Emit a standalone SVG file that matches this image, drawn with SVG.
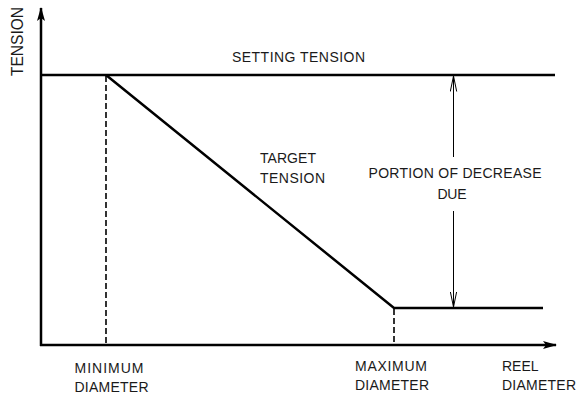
<svg xmlns="http://www.w3.org/2000/svg" width="579" height="396" viewBox="0 0 579 396">
  <style>
    .t { font-family: "Liberation Sans", Arial, sans-serif; font-size: 14px; fill: #1a1a1a; }
    .thick { stroke: #000; stroke-width: 2.5; fill: none; }
    .dash { stroke: #000; stroke-width: 1.6; stroke-dasharray: 6 3; fill: none; }
    .thin { stroke: #000; stroke-width: 1; fill: none; }
  </style>
  <defs>
    <marker id="solidArrow" viewBox="0 0 14 10" refX="13" refY="5" markerWidth="14" markerHeight="10" markerUnits="userSpaceOnUse" orient="auto">
      <path d="M0,1 L14,5 L0,9 L3,5 Z" fill="#000"/>
    </marker>
    <marker id="openArrow" viewBox="0 0 16 8" refX="15.5" refY="4" markerWidth="16" markerHeight="8" markerUnits="userSpaceOnUse" orient="auto">
      <path d="M0,0.8 L15.5,4 L0,7.2" fill="none" stroke="#000" stroke-width="1"/>
    </marker>
  </defs>
  <rect width="579" height="396" fill="#fff"/>

  <g id="axes">
    <line class="thick" x1="41" y1="346" x2="41" y2="8" marker-end="url(#solidArrow)"/>
    <line class="thick" x1="40" y1="345" x2="556" y2="345" marker-end="url(#solidArrow)"/>
  </g>

  <g id="connectors">
    <line id="setting-line" class="thick" x1="41" y1="75" x2="555" y2="75"/>
    <polyline id="target-line" class="thick" points="106,75 394,308 543,308"/>
    <line id="min-dash" class="dash" x1="106" y1="76" x2="106" y2="344"/>
    <line id="max-dash" class="dash" x1="394" y1="309" x2="394" y2="344"/>
    <line id="arrow-up" class="thin" x1="453.5" y1="157" x2="453.5" y2="76" marker-end="url(#openArrow)"/>
    <line id="arrow-down" class="thin" x1="453.5" y1="211" x2="453.5" y2="307" marker-end="url(#openArrow)"/>
  </g>

  <g id="label-tension">
    <text class="t" transform="translate(22.5,76) rotate(-90)" x="0" y="0" style="font-size:16px" textLength="69" lengthAdjust="spacingAndGlyphs">TENSION</text>
  </g>
  <g id="label-setting">
    <text class="t" x="232" y="61.5" textLength="133" lengthAdjust="spacing">SETTING TENSION</text>
  </g>
  <g id="label-target">
    <text class="t" x="260" y="163" textLength="56" lengthAdjust="spacing">TARGET</text>
    <text class="t" x="260" y="182.5" textLength="65" lengthAdjust="spacing">TENSION</text>
  </g>
  <g id="label-portion">
    <text class="t" x="368.5" y="177.5" textLength="173" lengthAdjust="spacing">PORTION OF DECREASE</text>
    <text class="t" x="437.5" y="198.5" textLength="29" lengthAdjust="spacing">DUE</text>
  </g>
  <g id="label-min">
    <text class="t" x="74.5" y="373" textLength="69" lengthAdjust="spacing">MINIMUM</text>
    <text class="t" x="74.5" y="391.5" textLength="74" lengthAdjust="spacing">DIAMETER</text>
  </g>
  <g id="label-max">
    <text class="t" x="355" y="371" textLength="72" lengthAdjust="spacing">MAXIMUM</text>
    <text class="t" x="355" y="390" textLength="74" lengthAdjust="spacing">DIAMETER</text>
  </g>
  <g id="label-reel">
    <text class="t" x="502" y="371">REEL</text>
    <text class="t" x="502" y="390" textLength="74" lengthAdjust="spacing">DIAMETER</text>
  </g>
</svg>
